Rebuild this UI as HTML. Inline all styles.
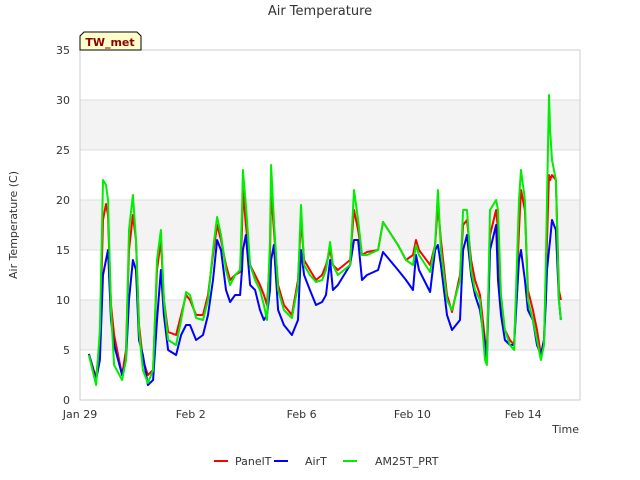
<!DOCTYPE html>
<html><head><meta charset="utf-8"><style>body{margin:0;background:#fff}svg{display:block;font-family:"DejaVu Sans","Liberation Sans",sans-serif}</style></head>
<body>
<svg id="chart" width="640" height="480" xmlns="http://www.w3.org/2000/svg">
<text x="320" y="15" text-anchor="middle" font-size="13" fill="#333">Air Temperature</text>
<g id="plot"></g>
<text transform="translate(17,225) rotate(-90)" text-anchor="middle" font-size="11" fill="#333">Air Temperature (C)</text>
<text x="579" y="433" text-anchor="end" font-size="11" fill="#333">Time</text>
<g>
<path d="M80,50 L80,36 L84,32 L137,32 L141,36 L141,50 Z" fill="#ffffcc" stroke="#000" stroke-width="1"/>
<text x="110" y="46" text-anchor="middle" font-size="11" font-weight="bold" fill="#8b0000">TW_met</text>
</g>
<g font-size="11" fill="#333">
<g><line x1="214" y1="461" x2="228" y2="461" stroke="#ff0000" stroke-width="2"/><text x="235" y="465">PanelT</text></g>
<g><line x1="274" y1="461" x2="288" y2="461" stroke="#0000ff" stroke-width="2"/><text x="305" y="465">AirT</text></g>
<g><line x1="343" y1="461" x2="357" y2="461" stroke="#00ee00" stroke-width="2"/><text x="375" y="465">AM25T_PRT</text></g>
</g>
</svg>
<script>
const times=[0.32,0.58,0.72,0.83,0.94,1.01,1.12,1.23,1.52,1.66,1.77,1.91,2.02,2.13,2.27,2.45,2.64,2.78,2.92,3.03,3.18,3.47,3.65,3.83,3.97,4.19,4.44,4.62,4.80,4.95,5.09,5.27,5.42,5.60,5.78,5.85,5.88,5.99,6.14,6.32,6.50,6.64,6.75,6.86,6.90,7.00,7.15,7.36,7.65,7.87,7.98,8.09,8.30,8.52,8.74,8.88,9.03,9.13,9.31,9.75,9.89,10.04,10.18,10.36,10.76,10.94,11.48,11.77,12.02,12.13,12.24,12.64,12.82,12.92,13.03,13.25,13.43,13.72,13.83,13.97,14.12,14.26,14.44,14.62,14.69,14.80,15.02,15.09,15.20,15.34,15.52,15.67,15.85,15.92,16.06,16.17,16.35,16.50,16.64,16.75,16.82,16.86,16.93,16.97,17.04,17.18,17.29,17.36];
const am25t=[4.5,1.5,7.0,22.0,21.5,20.0,9.0,3.5,2.0,4.0,17.0,20.5,16.0,7.0,3.0,1.7,3.0,14.0,17.0,10.0,6.0,5.5,8.0,10.8,10.5,8.2,8.0,10.0,15.0,18.3,16.5,13.0,11.5,12.5,13.0,19.0,23.0,19.5,13.5,12.0,11.0,9.5,8.0,16.0,23.5,18.0,11.0,9.0,8.2,11.5,19.5,13.5,12.5,11.8,12.0,13.0,15.8,13.5,12.5,13.5,21.0,18.0,14.5,14.5,15.0,17.8,15.5,14.0,13.5,15.5,14.5,12.8,15.5,21.0,15.0,10.0,9.0,12.0,19.0,19.0,13.0,11.0,10.0,4.0,3.5,19.0,20.0,19.0,10.5,7.0,5.5,5.0,20.0,23.0,20.0,10.0,8.0,6.0,4.0,5.5,14.0,20.0,30.5,27.0,24.0,22.0,10.0,8.0];
const panelT=[4.6,2.2,6.0,18.0,19.6,18.5,9.5,6.5,2.5,5.0,15.0,18.5,16.0,7.5,4.0,2.5,3.0,13.0,16.0,10.0,6.8,6.5,8.5,10.5,10.0,8.5,8.5,10.5,14.5,17.5,16.0,13.5,12.0,12.5,12.8,17.0,21.0,17.5,13.5,12.5,11.5,10.5,9.5,14.5,21.0,17.0,11.5,9.5,8.5,12.0,18.0,14.0,13.0,12.0,12.5,13.5,15.0,13.5,13.0,14.0,19.0,17.0,14.5,14.8,15.0,17.8,15.5,14.0,14.5,16.0,15.0,13.5,15.5,19.5,16.0,10.5,8.8,12.5,17.5,18.0,14.0,12.0,10.5,6.0,5.0,16.5,19.0,17.0,9.0,7.0,6.0,5.5,17.0,21.0,19.0,11.0,9.0,7.0,4.5,6.0,12.0,16.0,22.5,22.0,22.5,22.0,11.0,10.0];
const airT=[4.6,2.0,4.0,12.5,14.0,15.0,8.0,5.5,2.5,4.0,10.0,14.0,13.0,6.0,4.5,1.5,2.0,8.0,13.0,8.5,5.0,4.5,6.5,7.5,7.5,6.0,6.5,8.5,12.0,16.0,15.0,11.0,9.8,10.5,10.5,13.0,15.0,16.5,11.5,11.0,9.0,8.0,8.5,11.0,14.0,15.5,9.0,7.5,6.5,8.0,15.0,12.5,11.0,9.5,9.8,10.5,14.0,11.0,11.5,13.5,16.0,16.0,12.0,12.5,13.0,14.8,13.0,12.0,11.0,14.5,13.0,10.8,15.0,15.5,13.5,8.5,7.0,8.0,15.0,16.5,12.5,10.5,9.0,5.5,4.0,15.0,17.5,12.0,8.5,6.0,5.5,5.5,14.0,15.0,12.0,9.0,8.0,5.5,4.5,6.0,10.0,13.0,15.0,16.0,18.0,17.0,10.0,8.0];
const yTicks=[0,5,10,15,20,25,30,35];
const xTickDays=[0,4,8,12,16];
const xTickLabels=["Jan 29","Feb 2","Feb 6","Feb 10","Feb 14"];

const L=80,R=580,T=50,B=400,PX=27.7;
const xs=d=>L+d*PX;
const ys=v=>B-(v/35)*(B-T);
const NS="http://www.w3.org/2000/svg";
const g=document.getElementById('plot');
function mk(tag,at){const e=document.createElementNS(NS,tag);for(const k in at)e.setAttribute(k,at[k]);g.appendChild(e);return e;}
for(let i=0;i<yTicks.length-1;i++){
  if(i%2===1){const b=mk('rect',{x:L,y:ys(yTicks[i+1]),width:R-L,height:ys(yTicks[i])-ys(yTicks[i+1]),fill:'#f3f3f3'});
  
  }
}
yTicks.forEach(v=>{
  const l=mk('line',{x1:L,x2:R,y1:ys(v),y2:ys(v),stroke:'#dcdcdc','stroke-width':1});
  
  
  const t=mk('text',{x:L-10,y:ys(v)+4,'text-anchor':'end','font-size':11,fill:'#333'});
  t.textContent=v;
  
  
});
const ax=mk('rect',{x:L,y:T,width:R-L,height:B-T,fill:'none',stroke:'#ccc'});


xTickDays.forEach((d,i)=>{
  const t=mk('text',{x:xs(d),y:B+18,'text-anchor':'middle','font-size':11,fill:'#333'});
  t.textContent=xTickLabels[i];
  
  
});
function line(vals,color,name){
  const p=mk('polyline',{points:times.map((d,i)=>xs(d).toFixed(1)+','+ys(vals[i]).toFixed(1)).join(' '),fill:'none',stroke:color,'stroke-width':2,'stroke-linejoin':'round'});
  
  
}
line(panelT,'#ff0000','series-panelt');
line(airT,'#0000ff','series-airt');
line(am25t,'#00ee00','series-am25t-prt');
</script>
</body></html>
